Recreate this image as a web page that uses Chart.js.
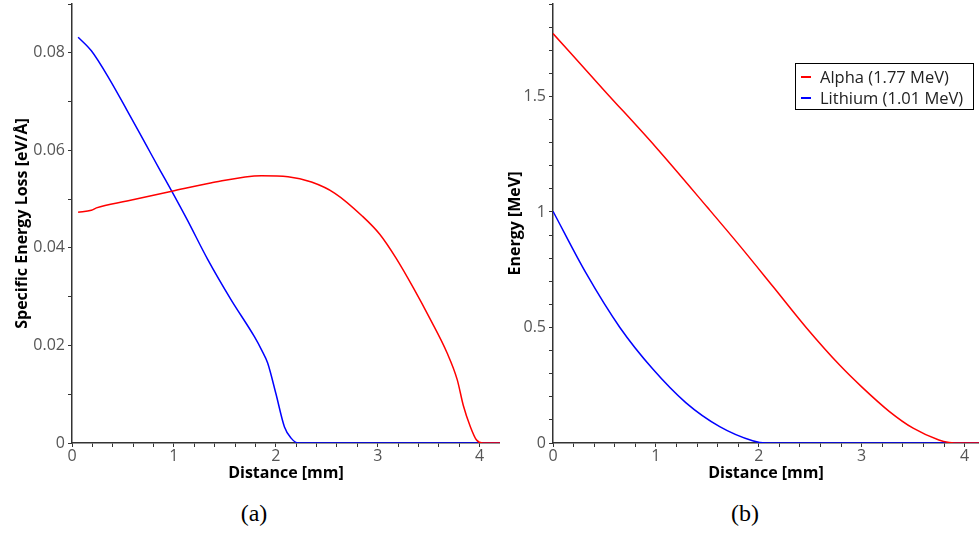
<!DOCTYPE html>
<html>
<head>
<meta charset="utf-8">
<script src="https://cdn.jsdelivr.net/npm/chart.js@4"></script>
<style>
  body { margin: 0; background: #fff; width: 979px; height: 533px; position: relative; overflow: hidden; }
  canvas { position: absolute; top: 0; }
  #lossChart { left: 0; }
  #energyChart { left: 500px; }
  .caption { position: absolute; top: 500px; font-family: 'Liberation Serif', 'DejaVu Serif', serif; font-size: 24px; color: #000; transform: translateX(-50%); }
  #legend { position: absolute; left: 795px; top: 63px; width: 179px; height: 47px; box-sizing: border-box; border: 1px solid #000;
            font-family: 'Open Sans', sans-serif; font-size: 16.5px; color: #222; padding-top: 2px; }
  #legend .row { height: 21px; line-height: 21px; white-space: nowrap; }
  #legend .swatch { display: inline-block; width: 10px; height: 2px; margin: 0 9px 4px 5px; vertical-align: middle; }
</style>
</head>
<body>
<canvas id="lossChart" width="500" height="490"></canvas>
<canvas id="energyChart" width="479" height="490"></canvas>
<div id="legend"></div>
<div class="caption" style="left:254px">(a)</div>
<div class="caption" style="left:745px">(b)</div>
<script>
// (a) specific energy loss vs distance
const alphaLossDist = [0.06, 0.19, 0.24, 0.54, 0.98, 1.36, 1.86, 2.12, 2.35, 2.58, 2.85, 3.02, 3.18, 3.35, 3.51, 3.68, 3.78, 3.84, 3.91, 3.97, 4.03, 4.2];
const alphaLoss = [0.0473, 0.0477, 0.0482, 0.0496, 0.0516, 0.0533, 0.0548, 0.0546, 0.0535, 0.0512, 0.0465, 0.0428, 0.0379, 0.0318, 0.0256, 0.0185, 0.0130, 0.0077, 0.0033, 0.0006, 0, 0];
const lithiumLossDist = [0.06, 0.19, 0.37, 0.54, 0.73, 0.87, 0.98, 1.13, 1.33, 1.56, 1.79, 1.86, 1.92, 2.0, 2.085, 2.15, 2.22, 3.0, 4.2];
const lithiumLoss = [0.0832, 0.0804, 0.0745, 0.0682, 0.0610, 0.0557, 0.0516, 0.0458, 0.0377, 0.0294, 0.0218, 0.0191, 0.0164, 0.0102, 0.0033, 0.001, 0, 0, 0];

// (b) remaining energy vs distance
const alphaEnergyDist = [0, 0.5, 1.0, 1.5, 1.82, 2.14, 2.46, 2.79, 3.0, 3.27, 3.5, 3.75, 3.85, 3.9, 4.15];
const alphaEnergy = [1.772, 1.525, 1.28, 1.02, 0.851, 0.676, 0.50, 0.335, 0.243, 0.136, 0.064, 0.013, 0.002, 0, 0];
const lithiumEnergyDist = [0, 0.32, 0.65, 0.97, 1.29, 1.62, 1.94, 2.07, 4.15];
const lithiumEnergy = [1.003, 0.736, 0.50, 0.32, 0.175, 0.071, 0.010, 0, 0];

const seriesLabels = ['Alpha (1.77 MeV)', 'Lithium (1.01 MeV)'];
const seriesColors = ['#ff0000', '#0000ff'];

Chart.defaults.font.family = "'Open Sans', sans-serif";

function points(xs, ys) {
    return xs.map(function(x, i) { return { x: x, y: ys[i] }; });
}

function lineDataset(label, color, data) {
    return {
        label: label,
        data: data,
        borderColor: color,
        borderWidth: 1.5,
        pointRadius: 0,
        fill: false,
        cubicInterpolationMode: 'monotone'
    };
}

const axisGrid = { drawOnChartArea: false, drawTicks: true, tickLength: 4, color: '#333' };
const axisBorder = { display: true, color: '#333', width: 1.5 };
const tickFont = { size: 16 };
const titleFont = { size: 16, weight: 'bold' };

function noPadding(scale) {
    scale.paddingTop = 0;
    scale.paddingBottom = 0;
    scale.paddingLeft = 0;
    scale.paddingRight = 0;
}

function xAxis(max) {
    return {
        type: 'linear', min: 0, max: max,
        grid: axisGrid, border: axisBorder,
        ticks: {
            stepSize: 0.2, includeBounds: false, autoSkip: false, maxRotation: 0,
            color: '#555', font: tickFont, padding: 0,
            callback: function(v) {
                return Math.abs(v - Math.round(v)) < 1e-6 ? String(Math.round(v)) : '';
            }
        },
        title: { display: true, text: 'Distance [mm]', color: '#000', font: titleFont, padding: { top: 0, bottom: 7 } },
        afterFit: function(scale) { scale.height = 47; noPadding(scale); }
    };
}

function commonOptions(xMax, yAxis) {
    return {
        responsive: false,
        animation: false,
        layout: { padding: { top: 4, right: 0, left: 0, bottom: 0 } },
        plugins: { legend: { display: false }, tooltip: { enabled: false } },
        scales: { x: xAxis(xMax), y: yAxis }
    };
}

new Chart(document.getElementById('lossChart'), {
    type: 'line',
    data: {
        datasets: [
            lineDataset(seriesLabels[0], seriesColors[0], points(alphaLossDist, alphaLoss)),
            lineDataset(seriesLabels[1], seriesColors[1], points(lithiumLossDist, lithiumLoss))
        ]
    },
    options: commonOptions(4.2, {
        type: 'linear', min: 0, max: 0.09,
        grid: axisGrid, border: axisBorder,
        ticks: {
            stepSize: 0.01, includeBounds: false, autoSkip: false,
            color: '#555', font: tickFont, padding: 3,
            callback: function(v) {
                const n = Math.round(v * 100);
                if (n % 2 !== 0) return '';
                return n === 0 ? '0' : (n / 100).toFixed(2);
            }
        },
        title: { display: true, text: 'Specific Energy Loss [eV/Å]', color: '#000', font: titleFont, padding: { top: 13, bottom: 0 } },
        afterFit: function(scale) { scale.width = 72; noPadding(scale); }
    })
});

new Chart(document.getElementById('energyChart'), {
    type: 'line',
    data: {
        datasets: [
            lineDataset(seriesLabels[0], seriesColors[0], points(alphaEnergyDist, alphaEnergy)),
            lineDataset(seriesLabels[1], seriesColors[1], points(lithiumEnergyDist, lithiumEnergy))
        ]
    },
    options: commonOptions(4.14, {
        type: 'linear', min: 0, max: 1.9,
        grid: axisGrid, border: axisBorder,
        ticks: {
            stepSize: 0.1, includeBounds: false, autoSkip: false,
            color: '#555', font: tickFont, padding: 3,
            callback: function(v) {
                const n = Math.round(v * 10);
                if (n % 5 !== 0) return '';
                return String(n / 10);
            }
        },
        title: { display: true, text: 'Energy [MeV]', color: '#000', font: titleFont, padding: { top: 6, bottom: 0 } },
        afterFit: function(scale) { scale.width = 53; noPadding(scale); }
    })
});

// legend box built from the series labels and colours
const legend = document.getElementById('legend');
seriesLabels.forEach(function(label, i) {
    const row = document.createElement('div');
    row.className = 'row';
    const sw = document.createElement('span');
    sw.className = 'swatch';
    sw.style.background = seriesColors[i];
    row.appendChild(sw);
    row.appendChild(document.createTextNode(label));
    legend.appendChild(row);
});
</script>
</body>
</html>
